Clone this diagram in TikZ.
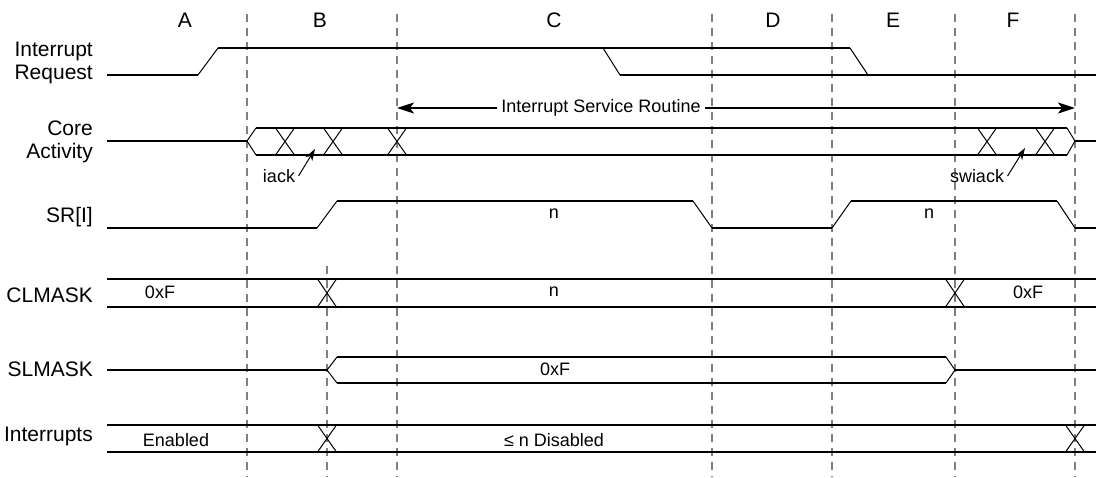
\documentclass[tikz,border=0pt]{standalone}
\usepackage{fontspec}
\setmainfont{Liberation Sans}
\usetikzlibrary{arrows.meta}

\tikzset{
  sig/.style={line width=2.2pt},
  edge/.style={line width=1pt},
  guide/.style={line width=1.6pt, black!50, dash pattern=on 8pt off 6pt},
  rowlbl/.style={anchor=east, align=right, inner sep=0pt, font=\fontsize{21}{23}\selectfont},
  collbl/.style={font=\fontsize{21}{24}\selectfont},
  val/.style={font=\fontsize{18}{21}\selectfont},
  ptr/.style={line width=1pt, -{Stealth[length=12pt,width=8pt]}},
  span/.style={line width=2pt, -{Stealth[length=17pt,width=11pt,inset=4pt]}},
}
\newcommand{\xing}[3]{\draw[edge] (#1-9.5,#2) -- (#1+9.5,#3) (#1-9.5,#3) -- (#1+9.5,#2);}

\begin{document}
\begin{tikzpicture}[x=1pt,y=-1pt]
\useasboundingbox (0,0) rectangle (1096,477);

\foreach \gx in {247,397,712,832,955,1075}
  \draw[guide] (\gx,14) -- (\gx,477);
\draw[guide] (327,266) -- (327,477);

\foreach \c/\cx in {A/185,B/320,C/554,D/773,E/893,F/1013}
  \node[collbl] (col\c) at (\cx,20) {\c};

\node[rowlbl] (irqlbl) at (93,63) {Interrupt\\Request};
\node[rowlbl] (corelbl) at (93,142) {Core\\Activity};
\node[rowlbl] (srlbl) at (93,217) {SR[I]};
\node[rowlbl] (clmlbl) at (93,295) {CLMASK};
\node[rowlbl] (slmlbl) at (93,369) {SLMASK};
\node[rowlbl] (intlbl) at (93,436) {Interrupts};

% Interrupt Request
\draw[sig] (107,75) -- (198,75);
\draw[edge] (198,75) -- (218,48);
\draw[sig] (218,48) -- (850,48);
\draw[edge] (603,48) -- (620,75);
\draw[edge] (850,48) -- (868,75);
\draw[sig] (620,75) -- (1096,75);

% ISR span
\node[val, fill=white, inner sep=4pt] (isr) at (601,108) {Interrupt Service Routine};
\coordinate (isrL) at (397,108);
\coordinate (isrR) at (1075,108);
\draw[span] (isr) -- (isrL);
\draw[span] (isr) -- (isrR);

% Core Activity
\draw[sig] (107,141) -- (247,141);
\draw[edge] (256,128) -- (247,141) -- (256,155);
\draw[sig] (256,128) -- (1067,128) (256,155) -- (1067,155);
\draw[edge] (1067,128) -- (1075,141) -- (1067,155);
\draw[sig] (1075,141) -- (1096,141);
\foreach \cx in {285,333,397,987,1045}
  {\xing{\cx}{128}{155}}

\node[val] (iack) at (279,176) {iack};
\coordinate (iacktip) at (315,149);
\draw[ptr] (iack.east) -- (iacktip);
\node[val] (swiack) at (977,176) {swiack};
\coordinate (swiacktip) at (1025,148);
\draw[ptr] (swiack.east) -- (swiacktip);

% SR[I]
\draw[sig] (107,228) -- (317,228);
\draw[edge] (317,228) -- (337,201);
\draw[sig] (337,201) -- (693,201);
\draw[edge] (693,201) -- (712,228);
\draw[sig] (712,228) -- (832,228);
\draw[edge] (832,228) -- (851,201);
\draw[sig] (851,201) -- (1057,201);
\draw[edge] (1057,201) -- (1075,228);
\draw[sig] (1075,228) -- (1096,228);
\node[val] (srn1) at (554,214) {n};
\node[val] (srn2) at (929,214) {n};

% CLMASK
\draw[sig] (107,279) -- (1096,279) (107,307) -- (1096,307);
\xing{327}{279}{307}
\xing{955}{279}{307}
\node[val] (clm1) at (160,292) {0xF};
\node[val] (clm2) at (554,292) {n};
\node[val] (clm3) at (1028,292) {0xF};

% SLMASK
\draw[sig] (107,370) -- (327,370);
\draw[edge] (337,357) -- (327,370) -- (337,383);
\draw[sig] (337,357) -- (946,357) (337,383) -- (946,383);
\draw[edge] (946,357) -- (955,370) -- (946,383);
\draw[sig] (955,370) -- (1096,370);
\node[val] (slm1) at (555,369) {0xF};

% Interrupts
\draw[sig] (107,425) -- (1096,425) (107,452) -- (1096,452);
\xing{327}{425}{452}
\xing{1075}{425}{452}
\node[val] (int1) at (176,440) {Enabled};
\node[val] (int2) at (554,440) {≤ n Disabled};
\end{tikzpicture}
\end{document}
